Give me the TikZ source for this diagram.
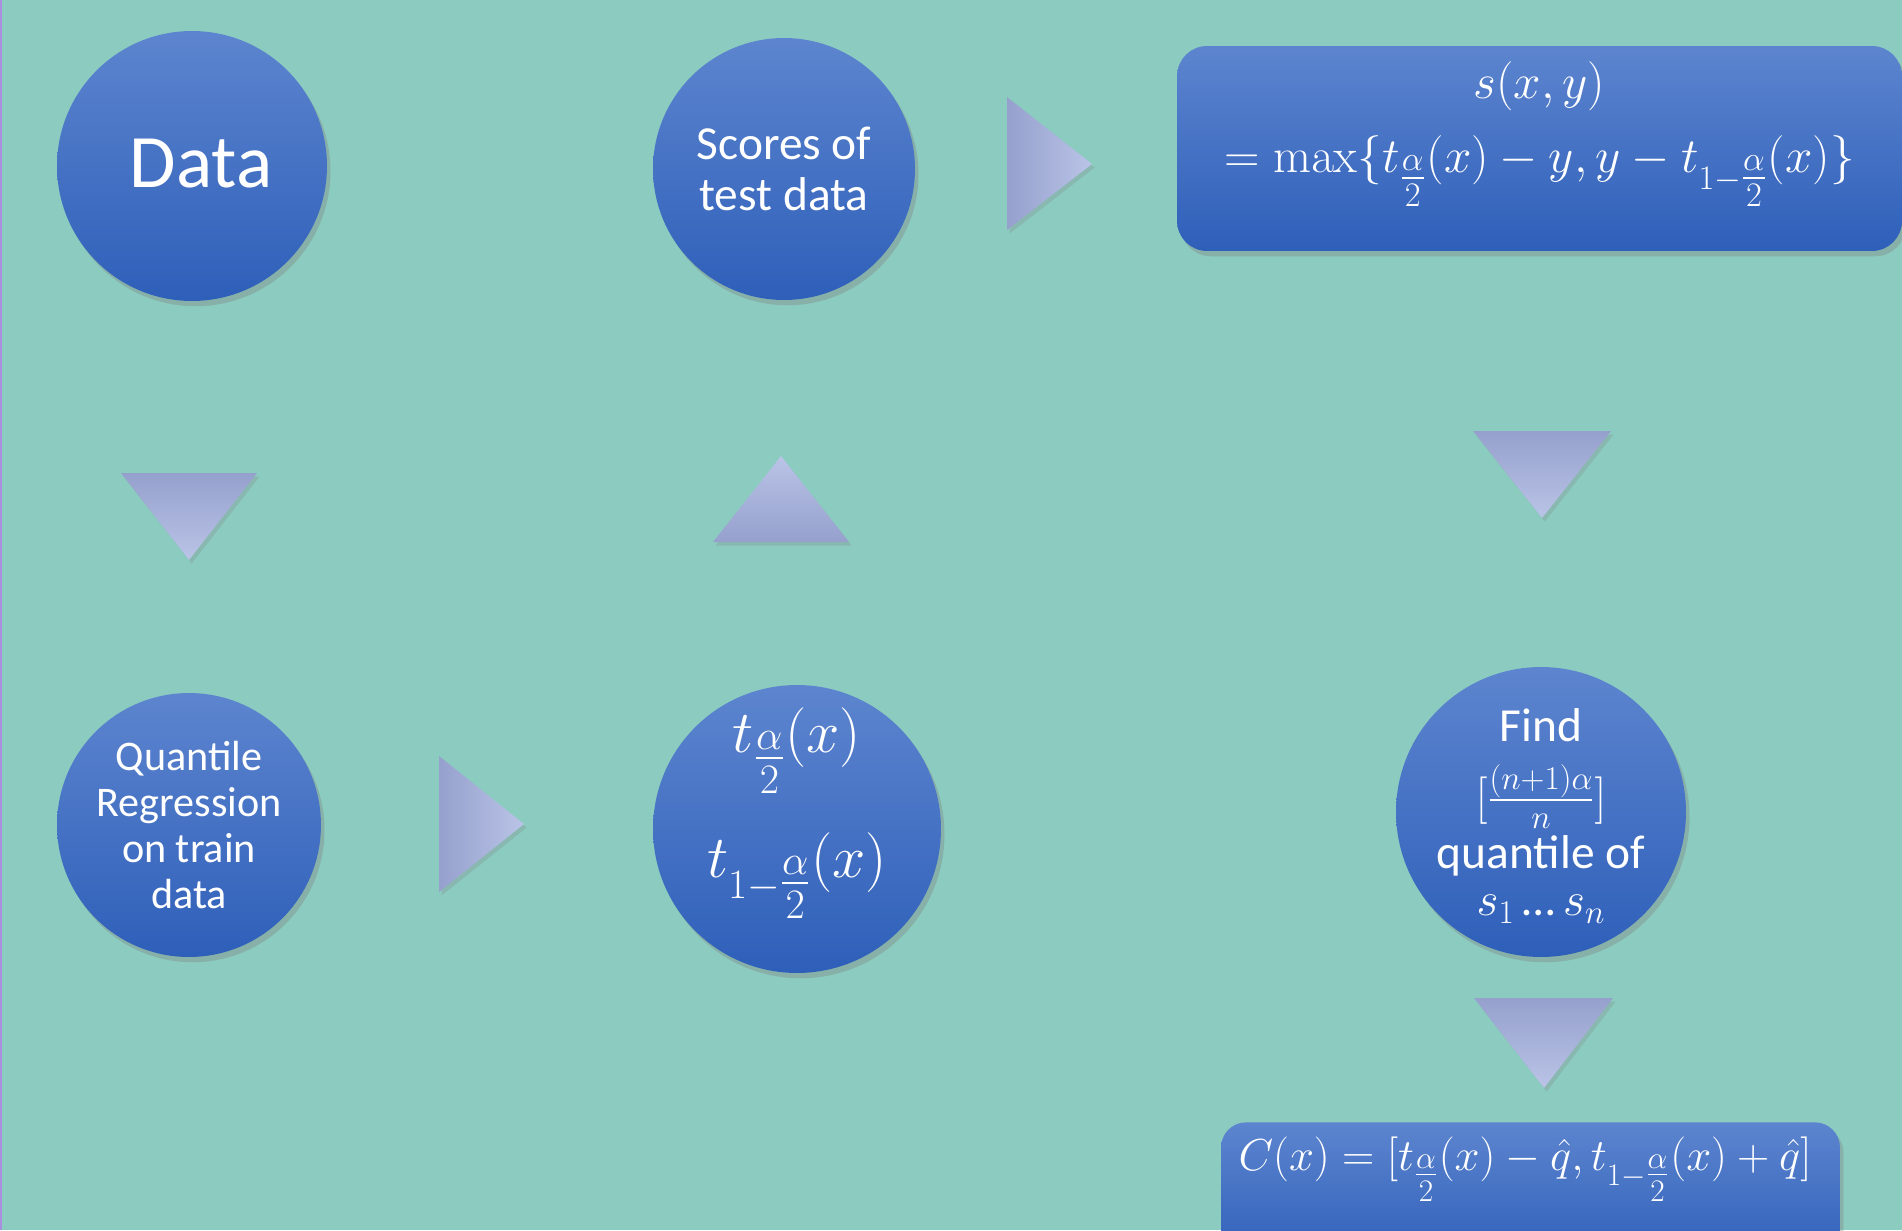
\RequirePackage{fix-cm}
\documentclass[tikz,border=0pt]{standalone}
\usepackage{amsmath,amssymb}
\usepackage[no-math]{fontspec}
\setmainfont{Carlito}
\usepackage{xcolor}
\usepackage{tikz}
\usetikzlibrary{positioning, calc, shadows}

\definecolor{bgteal}{HTML}{8BCBC0}
\definecolor{blutop}{HTML}{5D85CF}
\definecolor{blubot}{HTML}{2E5FB9}
\definecolor{tridark}{HTML}{95A0CD}
\definecolor{trilite}{HTML}{BAC4E7}
\definecolor{edgepurple}{HTML}{A98FE0}

\newcommand{\tlo}{t_{\textstyle\frac{\alpha}{2}}}
\newcommand{\thi}{t_{1-{\textstyle\frac{\alpha}{2}}}}

\begin{document}
\begin{tikzpicture}[x=0.02cm, y=-0.02cm, >=latex]
        \tikzstyle{bub} = [circle, inner sep=0pt, top color=blutop, bottom color=blubot, drop shadow={opacity=0.35, shadow xshift=2pt, shadow yshift=-3pt}]
        \tikzstyle{pane} = [rectangle, rounded corners=0.6cm, inner sep=0pt, top color=blutop, bottom color=blubot, drop shadow={opacity=0.35, shadow xshift=2pt, shadow yshift=-3pt}]
        \tikzstyle{txt} = [text=white, align=center, inner sep=0pt]
        \tikzstyle{arw} = [drop shadow={opacity=0.25, shadow xshift=1.5pt, shadow yshift=-2pt}]
        \tikzstyle{arwr} = [arw, left color=tridark, right color=trilite]
        \tikzstyle{arwu} = [arw, bottom color=tridark, top color=trilite]
        \tikzstyle{arwd} = [arw, top color=tridark, bottom color=trilite]

        % slide background
        \fill [bgteal] (0,0) rectangle (1902,1230);
        \useasboundingbox (0,0) rectangle (1902,1230);
        \clip (0,0) rectangle (1902,1230);
        \fill [edgepurple] (0,0) rectangle (1.5,1230);

        % circles
        \node (datac) [bub, minimum size=5.4cm] at (192,166) {};
        \node (scorec) [bub, minimum size=5.24cm] at (784,169) {};
        \node (quantc) [bub, minimum size=5.28cm] at (189,825) {};
        \node (tqc) [bub, minimum size=5.76cm] at (797,829) {};
        \node (findc) [bub, minimum size=5.8cm] at (1541,812) {};

        \node (datat) [txt, font=\fontsize{43}{49}\selectfont] at ($(datac)+(9,-2)$) {Data};
        \node (scoret) [txt, font=\fontsize{27}{29}\selectfont] at (scorec) {Scores of\\test data};
        \node (quantt) [txt, font=\fontsize{24}{26.2}\selectfont] at (quantc) {Quantile\\Regression\\on train\\data};
        \node (tqt) [txt, font=\fontsize{34}{36}\selectfont] at ($(tqc)+(0,-16)$) {$\tlo(x)$\\[21pt]$\thi(x)$};
        \node (findt) [txt, font=\fontsize{27}{31}\selectfont] at ($(findc)+(0,4)$) {Find\\[9pt]$[\frac{(n+1)\alpha}{n}]$\\[1pt]quantile of\\[-4pt]$s_1\,$…$\,s_n$};

        % boxes
        \node (sbox) [pane, minimum width=14.5cm, minimum height=4.1cm] at (1539.5,148.5) {};
        \node (stxt) [txt, font=\fontsize{28}{42}\selectfont] at ($(sbox)+(0,-14)$) {$s(x,y)$\\$=\max\{\tlo(x)-y,y-\thi(x)\}$};
        \node (cbox) [pane, rounded corners=0.5cm, minimum width=12.38cm, minimum height=2.8cm, anchor=north] at (1530.5,1122) {};
        \node (ctxt) [txt, anchor=base, font=\fontsize{25.5}{28}\selectfont] at (1525,1170) {$C(x)=[\tlo(x)-\hat{q},\thi(x)+\hat{q}]$};

        % arrow triangles
        \path [arwr] (1007,97) -- (1092,164) -- (1007,230) -- cycle;
        \path [arwd] (121,473) -- (257,473) -- (189,560) -- cycle;
        \path [arwu] (713,542) -- (849,542) -- (781,456) -- cycle;
        \path [arwd] (1473,431) -- (1611,431) -- (1542,518) -- cycle;
        \path [arwr] (439,756) -- (524,824) -- (439,892) -- cycle;
        \path [arwd] (1474,998) -- (1613,998) -- (1544,1088) -- cycle;
    \end{tikzpicture}
\end{document}
